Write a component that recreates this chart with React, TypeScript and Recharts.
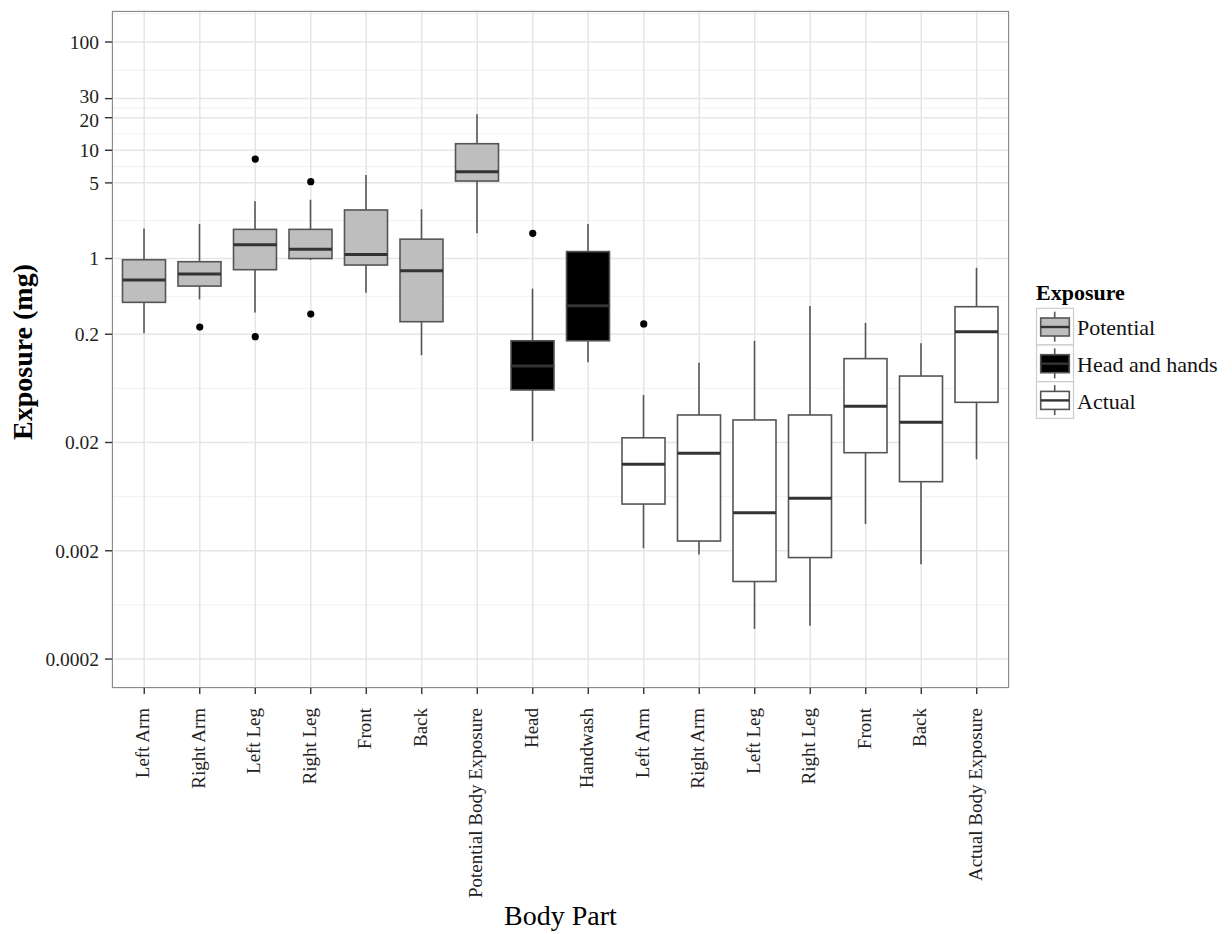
import {
  ComposedChart,
  Bar,
  Scatter,
  XAxis,
  YAxis,
  CartesianGrid,
  Legend,
} from 'recharts'

// body parts, in plot order (labels repeat between groups, so ids are separate)
const partIds = [
  'p-larm', 'p-rarm', 'p-lleg', 'p-rleg', 'p-front', 'p-back', 'p-total',
  'h-head', 'h-wash',
  'a-larm', 'a-rarm', 'a-lleg', 'a-rleg', 'a-front', 'a-back', 'a-total',
]
const partLabels = [
  'Left Arm', 'Right Arm', 'Left Leg', 'Right Leg', 'Front', 'Back', 'Potential Body Exposure',
  'Head', 'Handwash',
  'Left Arm', 'Right Arm', 'Left Leg', 'Right Leg', 'Front', 'Back', 'Actual Body Exposure',
]
const partGroups = [
  'Potential', 'Potential', 'Potential', 'Potential', 'Potential', 'Potential', 'Potential',
  'Head and hands', 'Head and hands',
  'Actual', 'Actual', 'Actual', 'Actual', 'Actual', 'Actual', 'Actual',
]

// box plot statistics (mg)
const whiskerLow = [0.204, 0.42, 0.318, 0.97, 0.483, 0.128, 1.71, 0.0206, 0.11, 0.00211, 0.00185, 0.00038, 0.000406, 0.00353, 0.0015, 0.014]
const lowerQuartile = [0.394, 0.557, 0.789, 1.0, 0.871, 0.261, 5.2, 0.0611, 0.174, 0.0054, 0.00246, 0.00104, 0.00173, 0.0161, 0.00869, 0.047]
const medians = [0.634, 0.72, 1.34, 1.22, 1.09, 0.773, 6.34, 0.102, 0.366, 0.0126, 0.0159, 0.0045, 0.0061, 0.0432, 0.0308, 0.211]
const upperQuartile = [0.975, 0.935, 1.86, 1.86, 2.81, 1.51, 11.5, 0.174, 1.16, 0.0221, 0.0359, 0.0323, 0.0359, 0.119, 0.0822, 0.359]
const whiskerHigh = [1.89, 2.08, 3.38, 3.49, 5.91, 2.85, 21.5, 0.527, 2.08, 0.0549, 0.109, 0.174, 0.365, 0.254, 0.165, 0.822]
const outlierHigh = [null, null, 8.3, 5.13, null, null, null, 1.71, null, 0.249, null, null, null, null, null, null]
const outlierLow = [null, 0.233, 0.19, 0.307, null, null, null, null, null, null, null, null, null, null, null, null]

const yTicks = [0.0002, 0.002, 0.02, 0.2, 1, 5, 10, 20, 30, 100]
const yMinorTicks = [0.000632, 0.00632, 0.0632, 0.447, 2.236, 7.07, 14.14, 24.49, 54.77, 182.6]
const yDomain = [0.000108, 193.4]

const groupNames = ['Potential', 'Head and hands', 'Actual']
const groupFill: Record<string, string> = {
  Potential: '#bebebe',
  'Head and hands': '#000000',
  Actual: '#ffffff',
}

const FONT = '"Liberation Serif", "Times New Roman", serif'
const LINE = '#555555'

const data = partIds.map((id, i) => ({
  id,
  label: partLabels[i],
  group: partGroups[i],
  min: whiskerLow[i],
  q1: lowerQuartile[i],
  median: medians[i],
  q3: upperQuartile[i],
  max: whiskerHigh[i],
  outHi: outlierHigh[i],
  outLo: outlierLow[i],
}))

// the bar spans min..max through the log axis; inner stats placed along the same log scale
function BoxShape(props: any) {
  const { x, y, width, height, payload } = props
  if (!payload || !isFinite(y) || !isFinite(height)) return null
  const top = Math.min(y, y + height)
  const bot = Math.max(y, y + height)
  const lmax = Math.log10(payload.max)
  const lmin = Math.log10(payload.min)
  const py = (v: number) => top + ((bot - top) * (lmax - Math.log10(v))) / (lmax - lmin)
  const cx = x + width / 2
  const yq3 = py(payload.q3)
  const yq1 = py(payload.q1)
  const ymed = py(payload.median)
  return (
    <g>
      <line x1={cx} x2={cx} y1={top} y2={yq3} stroke={LINE} strokeWidth={1.6} />
      <line x1={cx} x2={cx} y1={yq1} y2={bot} stroke={LINE} strokeWidth={1.6} />
      <rect
        x={x}
        y={yq3}
        width={width}
        height={yq1 - yq3}
        fill={groupFill[payload.group]}
        stroke={LINE}
        strokeWidth={1.6}
      />
      <line x1={x} x2={x + width} y1={ymed} y2={ymed} stroke="#333333" strokeWidth={3} />
    </g>
  )
}

function OutlierDot(props: any) {
  const { cx, cy } = props
  if (cx == null || cy == null || !isFinite(cx) || !isFinite(cy)) return null
  return <circle cx={cx} cy={cy} r={3.6} fill="#000000" />
}

function XTick(props: any) {
  const { x, y, payload } = props
  const i = partIds.indexOf(payload.value)
  const tx = x + 5
  const ty = y + 12
  return (
    <text
      x={tx}
      y={ty}
      transform={`rotate(-90, ${tx}, ${ty})`}
      textAnchor="end"
      fontFamily={FONT}
      fontSize={19}
      fill="#222222"
    >
      {partLabels[i]}
    </text>
  )
}

// 20 and 30 sit close on the log axis, nudge them apart a little
function YTick(props: any) {
  const { x, y, payload } = props
  const nudge = payload.value === 30 ? -2 : payload.value === 20 ? 2 : 0
  return (
    <text
      x={x}
      y={y + nudge}
      dy="0.35em"
      textAnchor="end"
      fontFamily={FONT}
      fontSize={19.5}
      fill="#222222"
    >
      {String(payload.value)}
    </text>
  )
}

function LegendBox() {
  const rowH = 36.7
  return (
    <svg width={200} height={150} style={{ overflow: 'visible' }}>
      <text x={0} y={20} fontFamily={FONT} fontSize={22} fontWeight="bold" fill="#000">
        Exposure
      </text>
      {groupNames.map((g, i) => {
        const top = 28.3 + i * rowH
        return (
          <g key={g}>
            <rect x={0.5} y={top} width={37} height={rowH} fill="#ffffff" stroke="#cccccc" strokeWidth={1.2} />
            <line x1={18.7} x2={18.7} y1={top + 3.4} y2={top + 33.4} stroke={LINE} strokeWidth={1.6} />
            <rect x={4.7} y={top + 9.7} width={28.6} height={18} fill={groupFill[g]} stroke={LINE} strokeWidth={1.6} />
            <line x1={4.7} x2={33.3} y1={top + 18.7} y2={top + 18.7} stroke="#333333" strokeWidth={2.4} />
            <text x={41} y={top + 27} fontFamily={FONT} fontSize={22} fill="#111">
              {g}
            </text>
          </g>
        )
      })}
    </svg>
  )
}

export default function App() {
  return (
    <div style={{ position: 'absolute', left: 0, top: 0, width: 1232, height: 934, background: '#fff' }}>
      <ComposedChart
        width={1232}
        height={934}
        data={data}
        margin={{ top: 11, right: 223, bottom: 46, left: 32 }}
      >
        <CartesianGrid
          horizontalValues={yMinorTicks}
          vertical={false}
          stroke="#f3f3f3"
          strokeWidth={1.2}
        />
        <CartesianGrid stroke="#e6e6e6" strokeWidth={1.5} />
        <XAxis
          dataKey="id"
          type="category"
          padding={{ left: 4.5, right: 4.5 }}
          height={200}
          interval={0}
          tickSize={6}
          tickLine={{ stroke: '#333333', strokeWidth: 1.4 }}
          axisLine={false}
          tick={<XTick />}
          label={(p: any) => {
            const vb = p.viewBox || {}
            return (
              <text
                x={(vb.x ?? 112) + (vb.width ?? 897) / 2}
                y={925}
                textAnchor="middle"
                fontFamily={FONT}
                fontSize={28}
                fill="#000"
              >
                Body Part
              </text>
            )
          }}
        />
        <YAxis
          scale="log"
          type="number"
          domain={yDomain}
          allowDataOverflow
          ticks={yTicks}
          interval={0}
          width={80}
          tickSize={7}
          tickMargin={6}
          tickLine={{ stroke: '#333333', strokeWidth: 1.4 }}
          axisLine={false}
          tick={<YTick />}
          label={() => (
            <text
              x={32}
              y={352}
              transform="rotate(-90, 32, 352)"
              textAnchor="middle"
              fontFamily={FONT}
              fontSize={28}
              fontWeight="bold"
              fill="#000"
            >
              Exposure (mg)
            </text>
          )}
        />
        <Bar
          dataKey={(d: any) => [d.min, d.max]}
          barSize={43}
          shape={<BoxShape />}
          isAnimationActive={false}
        />
        <Scatter dataKey="outHi" shape={<OutlierDot />} isAnimationActive={false} />
        <Scatter dataKey="outLo" shape={<OutlierDot />} isAnimationActive={false} />
        <Legend
          layout="vertical"
          align="center"
          verticalAlign="middle"
          content={() => <LegendBox />}
          wrapperStyle={{ position: 'absolute', left: 1036, top: 280, width: 200 }}
        />
      </ComposedChart>
      <div
        style={{
          position: 'absolute',
          left: 112,
          top: 11,
          width: 897,
          height: 677,
          boxSizing: 'border-box',
          border: '1.3px solid #8a8a8a',
          pointerEvents: 'none',
        }}
      />
    </div>
  )
}
